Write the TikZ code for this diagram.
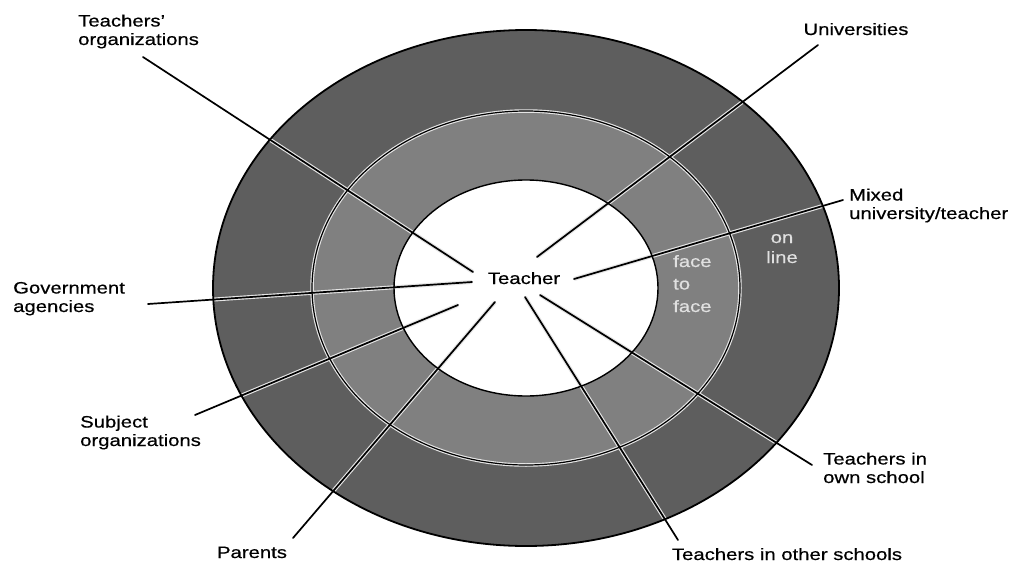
\documentclass[tikz,border=0pt]{standalone}
\usepackage{fontspec}
\setmainfont{Liberation Sans}[FakeStretch=1.23, FakeBold=0.5]
\definecolor{outerc}{gray}{0.37}
\definecolor{midc}{gray}{0.50}
\begin{document}
\begin{tikzpicture}[x=1pt,y=-1pt,
  lbl/.style={font=\fontsize{16.5}{18.5}\selectfont, align=left, inner sep=0pt},
  ringtext/.style={font=\fontsize{16.5}{22.5}\selectfont, inner sep=0pt, text=white!88!black},
  conn/.style={line width=1.7pt, black, line cap=round},
  halo/.style={line width=4pt, white!80!gray},
  rim/.style={line width=1.4pt, black}]
\useasboundingbox (0,0) rectangle (1026,562);
\fill[white] (0,0) rectangle (1026,562);
\coordinate (C) at (526,288);
% rings
\fill[outerc] (C) ellipse [x radius=313, y radius=258];
\fill[midc] (C) ellipse [x radius=214, y radius=177];
\fill[white] (C) ellipse [x radius=132, y radius=108];
% connector end points
\coordinate (a1) at (143,57);  \coordinate (b1) at (473,272);
\coordinate (a2) at (148,304); \coordinate (b2) at (472,282);
\coordinate (a3) at (195,415); \coordinate (b3) at (458,305);
\coordinate (a4) at (293,538); \coordinate (b4) at (495,302);
\coordinate (a5) at (678,540); \coordinate (b5) at (525,297);
\coordinate (a6) at (812,465); \coordinate (b6) at (540,295);
\coordinate (a7) at (843,200); \coordinate (b7) at (574,279);
\coordinate (a8) at (818,45);  \coordinate (b8) at (537,257);
% white sector gaps in the rings
\begin{scope}
\clip (C) ellipse [x radius=313, y radius=258];
\foreach \i in {1,...,8} \draw[halo] (a\i) -- (b\i);
\draw[line width=3.5pt, white!80!gray] (C) ellipse [x radius=214, y radius=177];
\end{scope}
% ring outlines
\draw[rim, line width=1.8pt] (C) ellipse [x radius=313, y radius=258];
\draw[rim, line width=1.2pt] (C) ellipse [x radius=214, y radius=177];
\draw[rim] (C) ellipse [x radius=132, y radius=108];
% connectors
\foreach \i in {1,...,8} \draw[conn] (a\i) -- (b\i);
% labels (anchor at baseline of the last line)
\node[lbl, anchor=base] (teacher) at (524,284) {Teacher};
\node[lbl, anchor=base west] (torg) at (78,45) {Teachers'\\organizations};
\node[lbl, anchor=base] (univ) at (856,35) {Universities};
\node[lbl, anchor=base west] (mixed) at (849,219) {Mixed\\university/teacher};
\node[lbl, anchor=base west] (gov) at (13,312) {Government\\agencies};
\node[lbl, anchor=base west] (subj) at (80,446) {Subject\\organizations};
\node[lbl, anchor=base] (par) at (252,558) {Parents};
\node[lbl, anchor=base west] (own) at (823,483) {Teachers in\\own school};
\node[lbl, anchor=base] (other) at (787,560) {Teachers in other schools};
\node[ringtext, anchor=base west, align=left] (f2f) at (673,312) {face\\to\\face};
\node[ringtext, anchor=base, align=center, font=\fontsize{16.5}{20}\selectfont] (online) at (782,263) {on\\line};
\end{tikzpicture}
\end{document}
